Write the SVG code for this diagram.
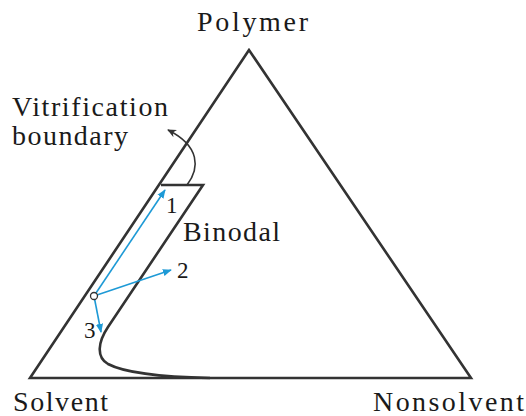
<svg xmlns="http://www.w3.org/2000/svg" width="526" height="416" viewBox="0 0 526 416">
<style>
text{font-family:"Liberation Serif","Times New Roman",serif;fill:#1a1a1a;font-size:28px}
.num{font-size:23px}
.blk{fill:none;stroke:#333;stroke-width:2.6;stroke-linejoin:miter}
.blue{fill:none;stroke:#1e9ad6;stroke-width:1.6}
</style>
<defs>
<marker id="ba" viewBox="0 0 10 10" refX="9" refY="5" markerWidth="9" markerHeight="9" markerUnits="userSpaceOnUse" orient="auto">
<path d="M0,1 L10,5 L0,9 Z" fill="#1e9ad6"/>
</marker>
<marker id="ka" viewBox="0 0 10 10" refX="9" refY="5" markerWidth="9" markerHeight="9" markerUnits="userSpaceOnUse" orient="auto">
<path d="M0,0.5 L10,5 L0,9.5 L3,5 Z" fill="#333"/>
</marker>
</defs>
<g id="triangle">
<path class="blk" d="M249,50 L30,378 L471,378 Z"/>
</g>
<g id="binodal">
<path class="blk" stroke-width="2.4" d="M161,185 L203,185 L108,327 C98,342 96,357 108,364 C125,373 160,377 210,378"/>
<text x="183" y="241" textLength="97" lengthAdjust="spacing">Binodal</text>
</g>
<g id="vitrification">
<path fill="none" stroke="#333" stroke-width="1.6" d="M187,185 C200,168 200,146 168,130" marker-end="url(#ka)"/>
<text x="12" y="116" textLength="156" lengthAdjust="spacing">Vitrification</text>
<text x="12" y="145" textLength="116" lengthAdjust="spacing">boundary</text>
</g>
<g id="labels">
<text x="197" y="31" textLength="111" lengthAdjust="spacing">Polymer</text>
<text x="13" y="411" textLength="95" lengthAdjust="spacing">Solvent</text>
<text x="373" y="411" textLength="151" lengthAdjust="spacing">Nonsolvent</text>
</g>
<g id="connectors">
<line class="blue" x1="94" y1="296" x2="165" y2="190" marker-end="url(#ba)"/>
<line class="blue" x1="94" y1="296" x2="171" y2="270" marker-end="url(#ba)"/>
<line class="blue" x1="94" y1="296" x2="101" y2="332" marker-end="url(#ba)"/>
</g>
<g id="start">
<circle cx="94" cy="296" r="3.5" fill="#fff" stroke="#333" stroke-width="1.3"/>
</g>
<g id="numbers">
<text class="num" x="166" y="213">1</text>
<text class="num" x="177" y="278">2</text>
<text class="num" x="84" y="338">3</text>
</g>
</svg>
